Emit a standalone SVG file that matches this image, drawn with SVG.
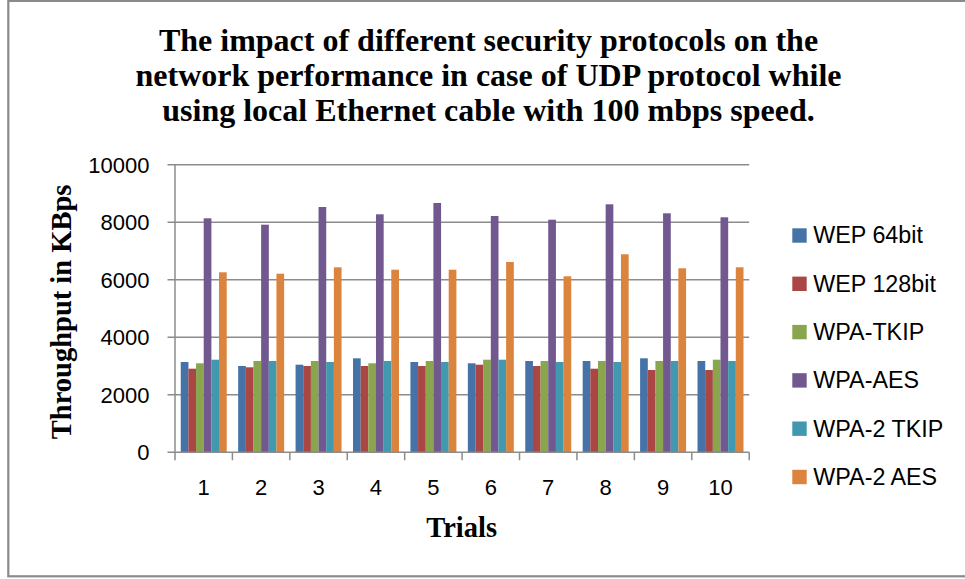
<svg xmlns="http://www.w3.org/2000/svg" width="965" height="579" viewBox="0 0 965 579">
<style>
.title{font-family:"Liberation Serif","Times New Roman",serif;font-weight:bold;font-size:32px;fill:#000;text-anchor:middle}
.axt{font-family:"Liberation Serif","Times New Roman",serif;font-weight:bold;font-size:28.5px;fill:#000;text-anchor:middle}
.tick{font-family:"Liberation Sans",Arial,sans-serif;font-size:22px;fill:#000}
.ytick{text-anchor:end}
.xtick{text-anchor:middle}
.leg{font-family:"Liberation Sans",Arial,sans-serif;font-size:23.3px;fill:#000}
.grid{stroke:#8c8c8c;stroke-width:1.5;fill:none}
.axis{stroke:#8c8c8c;stroke-width:1.5;fill:none}
.s1{fill:#4572A7}
.s2{fill:#AA4643}
.s3{fill:#89A54E}
.s4{fill:#71588F}
.s5{fill:#4198AF}
.s6{fill:#DB843D}
</style>
<rect id="chart-border" x="8.3" y="0.9" width="970" height="575.4" fill="#ffffff" stroke="#8a8a8a" stroke-width="2.2"/>
<g id="title">
<text class="title" x="488.5" y="50.5">The impact of different security protocols on the</text>
<text class="title" x="488.5" y="85.8">network performance in case of UDP protocol while</text>
<text class="title" x="488.5" y="121">using local Ethernet cable with 100 mbps speed.</text>
</g>
<g id="gridlines">
<line class="grid" x1="175" y1="164.8" x2="749.2" y2="164.8"/>
<line class="grid" x1="175" y1="222.3" x2="749.2" y2="222.3"/>
<line class="grid" x1="175" y1="279.8" x2="749.2" y2="279.8"/>
<line class="grid" x1="175" y1="337.3" x2="749.2" y2="337.3"/>
<line class="grid" x1="175" y1="394.8" x2="749.2" y2="394.8"/>
</g>
<g id="bars">
<g id="trial-1" transform="translate(180.74,0)">
<rect class="s1" x="0" y="362" width="7.7" height="90.3"/>
<rect class="s2" x="7.656" y="368.7" width="7.7" height="83.6"/>
<rect class="s3" x="15.312" y="363.3" width="7.7" height="89"/>
<rect class="s4" x="22.968" y="218.3" width="7.7" height="234"/>
<rect class="s5" x="30.624" y="359.7" width="7.7" height="92.6"/>
<rect class="s6" x="38.28" y="272.3" width="7.7" height="180"/>
</g>
<g id="trial-2" transform="translate(238.16,0)">
<rect class="s1" x="0" y="366" width="7.7" height="86.3"/>
<rect class="s2" x="7.656" y="367.3" width="7.7" height="85"/>
<rect class="s3" x="15.312" y="361" width="7.7" height="91.3"/>
<rect class="s4" x="22.968" y="224.7" width="7.7" height="227.6"/>
<rect class="s5" x="30.624" y="361" width="7.7" height="91.3"/>
<rect class="s6" x="38.28" y="273.7" width="7.7" height="178.6"/>
</g>
<g id="trial-3" transform="translate(295.58,0)">
<rect class="s1" x="0" y="364.7" width="7.7" height="87.6"/>
<rect class="s2" x="7.656" y="366" width="7.7" height="86.3"/>
<rect class="s3" x="15.312" y="361" width="7.7" height="91.3"/>
<rect class="s4" x="22.968" y="207" width="7.7" height="245.3"/>
<rect class="s5" x="30.624" y="362" width="7.7" height="90.3"/>
<rect class="s6" x="38.28" y="267.3" width="7.7" height="185"/>
</g>
<g id="trial-4" transform="translate(353,0)">
<rect class="s1" x="0" y="358.3" width="7.7" height="94"/>
<rect class="s2" x="7.656" y="366" width="7.7" height="86.3"/>
<rect class="s3" x="15.312" y="363.3" width="7.7" height="89"/>
<rect class="s4" x="22.968" y="214.3" width="7.7" height="238"/>
<rect class="s5" x="30.624" y="361" width="7.7" height="91.3"/>
<rect class="s6" x="38.28" y="269.7" width="7.7" height="182.6"/>
</g>
<g id="trial-5" transform="translate(410.42,0)">
<rect class="s1" x="0" y="362" width="7.7" height="90.3"/>
<rect class="s2" x="7.656" y="366" width="7.7" height="86.3"/>
<rect class="s3" x="15.312" y="361" width="7.7" height="91.3"/>
<rect class="s4" x="22.968" y="203" width="7.7" height="249.3"/>
<rect class="s5" x="30.624" y="362" width="7.7" height="90.3"/>
<rect class="s6" x="38.28" y="269.7" width="7.7" height="182.6"/>
</g>
<g id="trial-6" transform="translate(467.84,0)">
<rect class="s1" x="0" y="363.3" width="7.7" height="89"/>
<rect class="s2" x="7.656" y="364.7" width="7.7" height="87.6"/>
<rect class="s3" x="15.312" y="359.7" width="7.7" height="92.6"/>
<rect class="s4" x="22.968" y="216" width="7.7" height="236.3"/>
<rect class="s5" x="30.624" y="359.7" width="7.7" height="92.6"/>
<rect class="s6" x="38.28" y="262" width="7.7" height="190.3"/>
</g>
<g id="trial-7" transform="translate(525.26,0)">
<rect class="s1" x="0" y="361" width="7.7" height="91.3"/>
<rect class="s2" x="7.656" y="366" width="7.7" height="86.3"/>
<rect class="s3" x="15.312" y="361" width="7.7" height="91.3"/>
<rect class="s4" x="22.968" y="219.7" width="7.7" height="232.6"/>
<rect class="s5" x="30.624" y="362" width="7.7" height="90.3"/>
<rect class="s6" x="38.28" y="276.3" width="7.7" height="176"/>
</g>
<g id="trial-8" transform="translate(582.68,0)">
<rect class="s1" x="0" y="361" width="7.7" height="91.3"/>
<rect class="s2" x="7.656" y="368.7" width="7.7" height="83.6"/>
<rect class="s3" x="15.312" y="361" width="7.7" height="91.3"/>
<rect class="s4" x="22.968" y="204.3" width="7.7" height="248"/>
<rect class="s5" x="30.624" y="362" width="7.7" height="90.3"/>
<rect class="s6" x="38.28" y="254.3" width="7.7" height="198"/>
</g>
<g id="trial-9" transform="translate(640.1,0)">
<rect class="s1" x="0" y="358.3" width="7.7" height="94"/>
<rect class="s2" x="7.656" y="370" width="7.7" height="82.3"/>
<rect class="s3" x="15.312" y="361" width="7.7" height="91.3"/>
<rect class="s4" x="22.968" y="213.3" width="7.7" height="239"/>
<rect class="s5" x="30.624" y="361" width="7.7" height="91.3"/>
<rect class="s6" x="38.28" y="268.3" width="7.7" height="184"/>
</g>
<g id="trial-10" transform="translate(697.52,0)">
<rect class="s1" x="0" y="361" width="7.7" height="91.3"/>
<rect class="s2" x="7.656" y="370" width="7.7" height="82.3"/>
<rect class="s3" x="15.312" y="359.7" width="7.7" height="92.6"/>
<rect class="s4" x="22.968" y="217.3" width="7.7" height="235"/>
<rect class="s5" x="30.624" y="361" width="7.7" height="91.3"/>
<rect class="s6" x="38.28" y="267.3" width="7.7" height="185"/>
</g>
</g>
<g id="axes">
<line class="axis" x1="175" y1="164.8" x2="175" y2="452.3"/>
<line class="axis" x1="167.5" y1="452.3" x2="749.2" y2="452.3"/>
<path class="axis" d="M167.5 164.8H175M167.5 222.3H175M167.5 279.8H175M167.5 337.3H175M167.5 394.8H175"/>
<path class="axis" d="M175 452.3V460.3M232.42 452.3V460.3M289.84 452.3V460.3M347.26 452.3V460.3M404.68 452.3V460.3M462.1 452.3V460.3M519.52 452.3V460.3M576.94 452.3V460.3M634.36 452.3V460.3M691.78 452.3V460.3M749.2 452.3V460.3"/>
</g>
<g id="y-tick-labels">
<text class="tick ytick" x="149.5" y="172.8">10000</text>
<text class="tick ytick" x="149.5" y="230.3">8000</text>
<text class="tick ytick" x="149.5" y="287.8">6000</text>
<text class="tick ytick" x="149.5" y="345.3">4000</text>
<text class="tick ytick" x="149.5" y="402.8">2000</text>
<text class="tick ytick" x="149.5" y="460.3">0</text>
</g>
<g id="x-tick-labels">
<text class="tick xtick" x="203.71" y="495">1</text>
<text class="tick xtick" x="261.13" y="495">2</text>
<text class="tick xtick" x="318.55" y="495">3</text>
<text class="tick xtick" x="375.97" y="495">4</text>
<text class="tick xtick" x="433.39" y="495">5</text>
<text class="tick xtick" x="490.81" y="495">6</text>
<text class="tick xtick" x="548.23" y="495">7</text>
<text class="tick xtick" x="605.65" y="495">8</text>
<text class="tick xtick" x="663.07" y="495">9</text>
<text class="tick xtick" x="720.49" y="495">10</text>
</g>
<g id="axis-titles">
<text class="axt" x="461.7" y="536.7">Trials</text>
<text class="axt" transform="translate(70.5,311.9) rotate(-90)" x="0" y="0">Throughput in KBps</text>
</g>
<g id="legend">
<g id="legend-wep64"><rect class="s1" x="792.3" y="228.3" width="14.4" height="14.4"/><text class="leg" x="813.3" y="243.3">WEP 64bit</text></g>
<g id="legend-wep128"><rect class="s2" x="792.3" y="276.6" width="14.4" height="14.4"/><text class="leg" x="813.3" y="291.6">WEP 128bit</text></g>
<g id="legend-wpa-tkip"><rect class="s3" x="792.3" y="324.9" width="14.4" height="14.4"/><text class="leg" x="813.3" y="339.9">WPA-TKIP</text></g>
<g id="legend-wpa-aes"><rect class="s4" x="792.3" y="373.2" width="14.4" height="14.4"/><text class="leg" x="813.3" y="388.2">WPA-AES</text></g>
<g id="legend-wpa2-tkip"><rect class="s5" x="792.3" y="421.5" width="14.4" height="14.4"/><text class="leg" x="813.3" y="436.5">WPA-2 TKIP</text></g>
<g id="legend-wpa2-aes"><rect class="s6" x="792.3" y="469.8" width="14.4" height="14.4"/><text class="leg" x="813.3" y="484.8">WPA-2 AES</text></g>
</g>
</svg>
